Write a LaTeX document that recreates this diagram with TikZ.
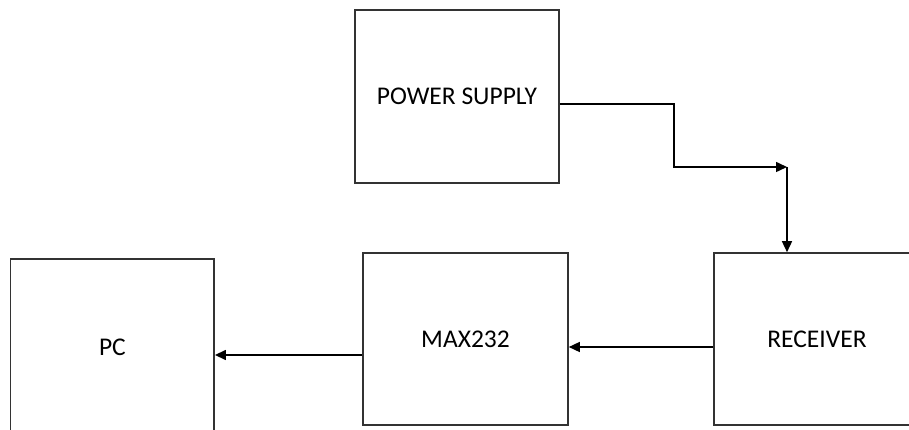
\documentclass[tikz,border=0pt]{standalone}
\usepackage{fontspec}
\setmainfont{Carlito}
\usetikzlibrary{arrows.meta}
\begin{document}
\begin{tikzpicture}[x=1pt,y=-1pt,
  blk/.style={draw=black!80,line width=1.6pt,rectangle,inner sep=0pt,
    font=\fontsize{25.5}{28}\selectfont},
  arr/.style={draw=black,line width=1.5pt,-{Triangle[length=11pt,width=10pt]}}]
\useasboundingbox (0,0) rectangle (909,430);
\clip (0,0) rectangle (909,430);
\fill[white] (0,0) rectangle (909,430);
\node[blk,minimum width=204pt,minimum height=173pt] (ps) at (457,96.5) {POWER SUPPLY};
\node[blk,minimum width=206pt,minimum height=172pt] (rx) at (817,339) {RECEIVER};
\node[blk,minimum width=205pt,minimum height=172pt] (mx) at (465.5,339) {MAX232};
\node[blk,minimum width=203.5pt,minimum height=176pt] (pc) at (112.4,347) {PC};
\coordinate (j) at (787,167);
\draw[arr] ([yshift=-7.5pt]ps.east) -- ++(114,0) -- ++(0,63) -- (j);
\draw[arr] (j) -- (rx.north -| j);
\draw[arr] ([yshift=-8pt]rx.west) -- ([yshift=-8pt]mx.east);
\draw[arr] ([yshift=-16pt]mx.west) -- ([yshift=-8pt]pc.east);
\end{tikzpicture}
\end{document}
